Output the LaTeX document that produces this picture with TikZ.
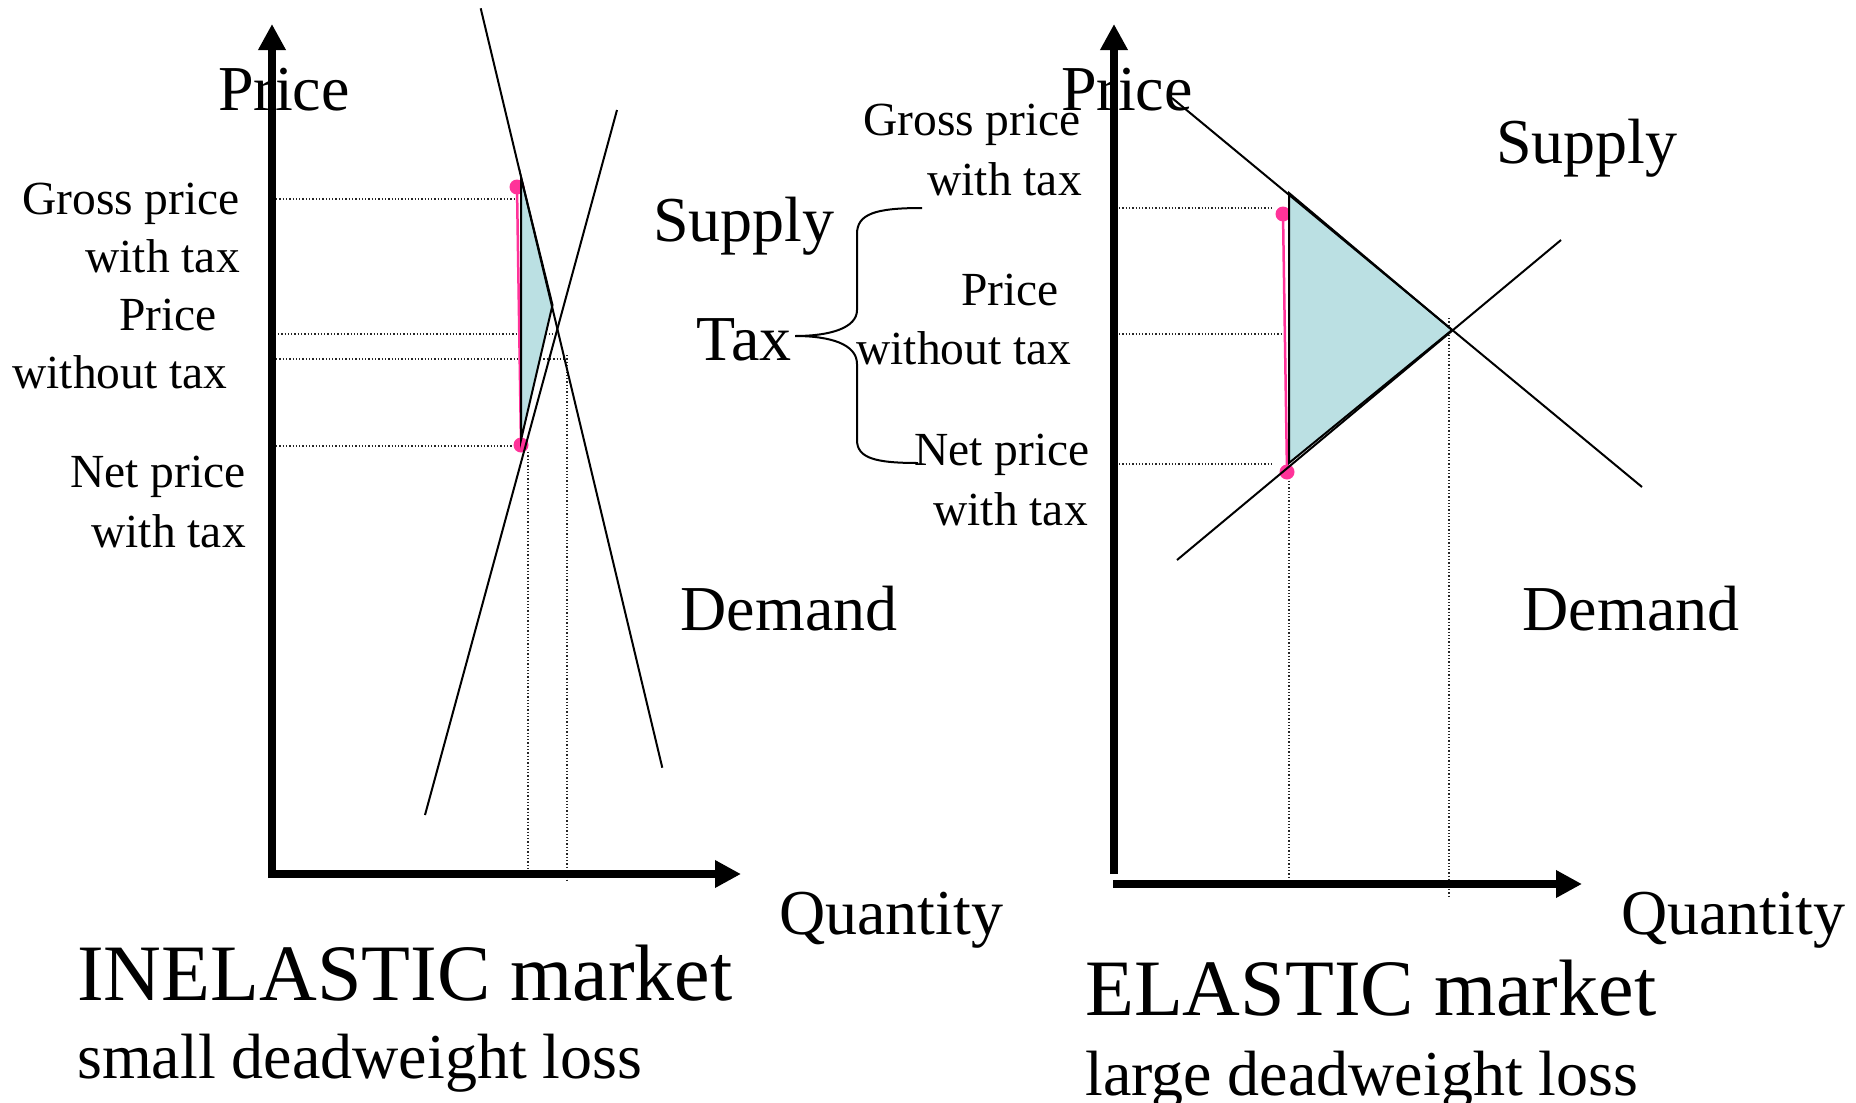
\documentclass[tikz,border=0pt]{standalone}
\usepackage{fontspec}
\setmainfont{Liberation Serif}
\usetikzlibrary{arrows.meta}
\definecolor{dwlcyan}{RGB}{187,224,227}
\definecolor{taxpink}{RGB}{255,51,153}
\begin{document}
\begin{tikzpicture}[x=1pt,y=-1pt,
  axis/.style={line width=8pt,-{Triangle[length=26pt,width=26pt]}},
  curve/.style={line width=2pt},
  guide/.style={line width=1.3pt,dash pattern=on 1.3pt off 2pt,black!85},
  lab/.style={font=\fontsize{47.5}{56}\selectfont,inner sep=0pt},
  big/.style={font=\fontsize{64}{70}\selectfont,inner sep=0pt},
  ttl/.style={font=\fontsize{80}{90}\selectfont,inner sep=0pt},
  dwl/.style={fill=dwlcyan,draw=black,line width=2pt},
  taxline/.style={draw=taxpink,line width=2.5pt},
  pinkdot/.style={circle,fill=taxpink,inner sep=0pt,minimum size=15pt},
]
\useasboundingbox (0,0) rectangle (1856,1103);

% ---------------- LEFT (inelastic) ----------------
\coordinate (LYb) at (272,878);
\coordinate (LYt) at (272,24);
\coordinate (LXl) at (268,874);
\coordinate (LXr) at (741,874);
\coordinate (LD1) at (480.7,8.3);
\coordinate (LD2) at (662.3,767.7);
\coordinate (LS1) at (425,815);
\coordinate (LS2) at (617,110);
\coordinate (LPa) at (521,177);
\coordinate (LPb) at (552.5,305);
\coordinate (LPc) at (521,440);

% guides
\coordinate (Lg1a) at (276,199); \coordinate (Lg1b) at (518,199);
\coordinate (Lg2a) at (268,334); \coordinate (Lg2b) at (558,334);
\coordinate (Lg3a) at (276,359); \coordinate (Lg3b) at (567,359);
\coordinate (Lg4a) at (276,446); \coordinate (Lg4b) at (517,446);
\coordinate (Lv1a) at (528,452); \coordinate (Lv1b) at (528,868);
\coordinate (Lv2a) at (567,355); \coordinate (Lv2b) at (567,881);
\draw[guide] (Lg1a) -- (Lg1b);
\draw[guide] (Lg2a) -- (Lg2b);
\draw[guide] (Lg3a) -- (Lg3b);
\draw[guide] (Lg4a) -- (Lg4b);
\draw[guide] (Lv1a) -- (Lv1b);
\draw[guide] (Lv2a) -- (Lv2b);

\node[pinkdot] (Ldot1) at (517,187) {};
\node[pinkdot] (Ldot2) at (521,445) {};
\draw[taxline] (Ldot1.center) -- (Ldot2.center);
\filldraw[dwl] (LPa) -- (LPb) -- (LPc) -- cycle;
\draw[curve] (LD1) -- (LD2);
\draw[curve] (LS1) -- (LS2);

\draw[axis] (LYb) -- (LYt);
\draw[axis] (LXl) -- (LXr);

% left labels
\node[big] (LPrice) at (284,90) {Price};
\node[lab,anchor=east] (Lgross) at (240,204) {Gross price};
\node[lab,anchor=east] (Lgwith) at (240,256) {with tax};
\node[lab] (Lprice2) at (168,315) {Price};
\node[lab] (Lwithout) at (120,372) {without tax};
\node[lab,anchor=east] (Lnet) at (246,477) {Net price};
\node[lab,anchor=east] (Lnwith) at (246,531) {with tax};
\node[big] (LSupply) at (744,226) {Supply};
\node[big] (LDemand) at (789,609) {Demand};
\node[big] (LQuant) at (891,920) {Quantity};
\node[ttl,anchor=west] (Ltitle) at (77,973) {INELASTIC market};
\node[big,anchor=west] (Lsub) at (77,1063) {small deadweight loss};

% tax brace
\node[big] (Tax) at (744,340) {Tax};
\coordinate (Btip) at (795,336);
\coordinate (Btop) at (922,208);
\coordinate (Bbot) at (918,463);
\draw[curve] (Btop) .. controls (875,208) and (857,214) .. (857,234)
  -- (857,310) .. controls (857,328) and (830,336) .. (Btip)
  .. controls (830,336) and (857,344) .. (857,364)
  -- (857,440) .. controls (857,458) and (875,463) .. (Bbot);

% middle labels
\node[lab] (Mgross) at (972,125) {Gross price};
\node[lab,anchor=east] (Mgwith) at (1082,179) {with tax};
\node[lab] (Mprice) at (1010,290) {Price};
\node[lab] (Mwithout) at (964,348) {without tax};
\node[lab,anchor=east] (Mnet) at (1090,455) {Net price};
\node[lab,anchor=east] (Mnwith) at (1088,509) {with tax};

% ---------------- RIGHT (elastic) ----------------
\coordinate (RYb) at (1114,874);
\coordinate (RYt) at (1114,24);
\coordinate (RXl) at (1113,884);
\coordinate (RXr) at (1582,884);
\coordinate (RD1) at (1172,98);
\coordinate (RD2) at (1642,487);
\coordinate (RS1) at (1177,560);
\coordinate (RS2) at (1561,240);
\coordinate (RPa) at (1289,193);
\coordinate (RPb) at (1452,330);
\coordinate (RPc) at (1289,463);

\coordinate (Rg1a) at (1119,208); \coordinate (Rg1b) at (1273,208);
\coordinate (Rg2a) at (1119,334); \coordinate (Rg2b) at (1285,334);
\coordinate (Rg3a) at (1119,464); \coordinate (Rg3b) at (1273,464);
\coordinate (Rv1a) at (1289,474); \coordinate (Rv1b) at (1289,880);
\coordinate (Rv2a) at (1449,318); \coordinate (Rv2b) at (1449,897);
\draw[guide] (Rg1a) -- (Rg1b);
\draw[guide] (Rg2a) -- (Rg2b);
\draw[guide] (Rg3a) -- (Rg3b);
\draw[guide] (Rv1a) -- (Rv1b);
\draw[guide] (Rv2a) -- (Rv2b);

\node[pinkdot] (Rdot1) at (1283,214) {};
\node[pinkdot] (Rdot2) at (1287,472) {};
\draw[taxline] (Rdot1.center) -- (Rdot2.center);
\filldraw[dwl] (RPa) -- (RPb) -- (RPc) -- cycle;
\draw[curve] (RD1) -- (RD2);
\draw[curve] (RS1) -- (RS2);

\node[big] (RPrice) at (1127,90) {Price};
\draw[axis] (RYb) -- (RYt);
\draw[axis] (RXl) -- (RXr);

\node[big] (RSupply) at (1587,148) {Supply};
\node[big] (RDemand) at (1631,609) {Demand};
\node[big] (RQuant) at (1733,920) {Quantity};
\node[ttl,anchor=west] (Rtitle) at (1085,988) {ELASTIC market};
\node[big,anchor=west] (Rsub) at (1085,1080) {large deadweight loss};
\end{tikzpicture}
\end{document}
